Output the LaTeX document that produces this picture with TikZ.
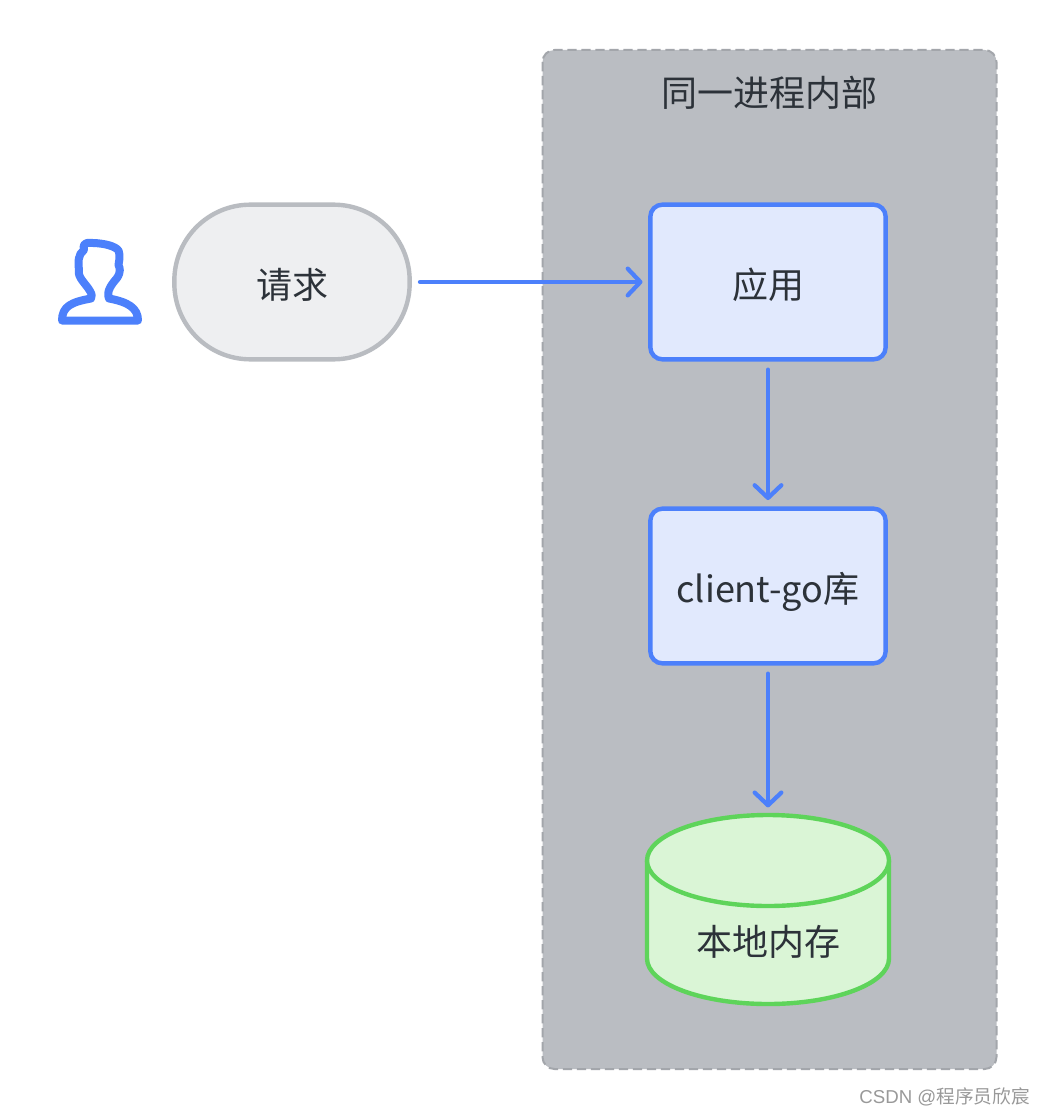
\documentclass[tikz,border=0pt]{standalone}
\usepackage{fontspec}
\setmainfont{Noto Sans CJK SC}
\newfontfamily\wmfont{Liberation Sans}
\usetikzlibrary{arrows.meta,positioning}
\definecolor{blueline}{HTML}{4C80FB}
\definecolor{bluefill}{HTML}{E1E9FD}
\definecolor{greenline}{HTML}{5ED45A}
\definecolor{greenfill}{HTML}{DAF5D6}
\definecolor{greyline}{HTML}{B9BCC1}
\definecolor{greyfill}{HTML}{EEEFF1}
\definecolor{groupfill}{HTML}{BABDC2}
\definecolor{groupline}{HTML}{A3A6AB}
\definecolor{ink}{HTML}{2C3239}
\tikzset{
  x=0.75pt,y=-0.75pt,
  label text/.style={font=\fontsize{27}{32}\selectfont,text=ink,inner sep=0pt},
  shifted text/.style={text height=25pt,text depth=0pt},
  boxnode/.style={draw=blueline,fill=bluefill,line width=3.3pt,rounded corners=9pt,
    minimum width=176.5pt,minimum height=116pt,label text,shifted text},
  pill/.style={draw=greyline,fill=greyfill,line width=3.3pt,rounded corners=57pt,
    minimum width=176.5pt,minimum height=116pt,label text,shifted text},
  dbshape/.style={draw=greenline,fill=greenfill,line width=3.3pt,line join=round},
  flow/.style={draw=blueline,line width=3pt,-{Straight Barb[length=9.5pt,width=20pt,line width=3.2pt,round]},line cap=round},
}
\begin{document}
\begin{tikzpicture}
\useasboundingbox (0,0) rectangle (1044,1116);
\fill[white] (0,0) rectangle (1044,1116);
% group
\draw[fill=groupfill,draw=groupline,line width=1.5pt,dash pattern=on 7pt off 3.5pt,rounded corners=9pt]
  (542.5,50) rectangle (996.5,1069);
\node[label text] (grouptitle) at (769.5,93) {同一进程内部};
% person
\draw[blueline,line width=6pt,line join=round,line cap=round]
  (62,320.5) -- (138,320.5)
  .. controls (138,308) and (128,302) .. (109,298.5)
  .. controls (106,291) and (112,284) .. (117,278)
  .. controls (121,272) and (120,268) .. (118.5,265)
  .. controls (120,258) and (120,250) .. (117,249)
  .. controls (112,245) and (100,242.5) .. (87,243)
  .. controls (83,244) and (83,248) .. (84,250)
  .. controls (78,254) and (78,262) .. (79,270)
  .. controls (77,277) and (86,284) .. (90,291)
  .. controls (92,294) and (92,297) .. (91,298.5)
  .. controls (72,302) and (62,306) .. (62,320.5) -- cycle;
% nodes
\node[pill] (req) at (292,282) {请求};
\node[boxnode] (app) at (768,282) {应用};
\node[boxnode] (lib) at (768,586) {client-go库};
% database
\node[inner sep=0pt,minimum width=181.5pt,minimum height=141.75pt] (db) at (768,909.5) {};
\draw[dbshape]
  (647,860.5) -- (647,958.5) arc[start angle=180,end angle=0,x radius=121,y radius=45.5] -- (889,860.5);
\draw[dbshape]
  (647,860.5) arc[start angle=180,end angle=-180,x radius=121,y radius=45.5] -- cycle;
\node[label text] (dbtext) at (768,942) {本地内存};
% connectors
\draw[flow,shorten <=6pt,shorten >=4.2pt] (req) -- (app);
\draw[flow,shorten <=6pt,shorten >=4.8pt] (app) -- (lib);
\draw[flow,shorten <=6pt,shorten >=5.5pt] (lib) -- (db);
% watermark
\node[anchor=east,inner sep=0pt,text=black!40,font=\fontsize{14}{18}\selectfont] (wm) at (1030,1097) {{\wmfont CSDN @}程序员欣宸};
\end{tikzpicture}
\end{document}
